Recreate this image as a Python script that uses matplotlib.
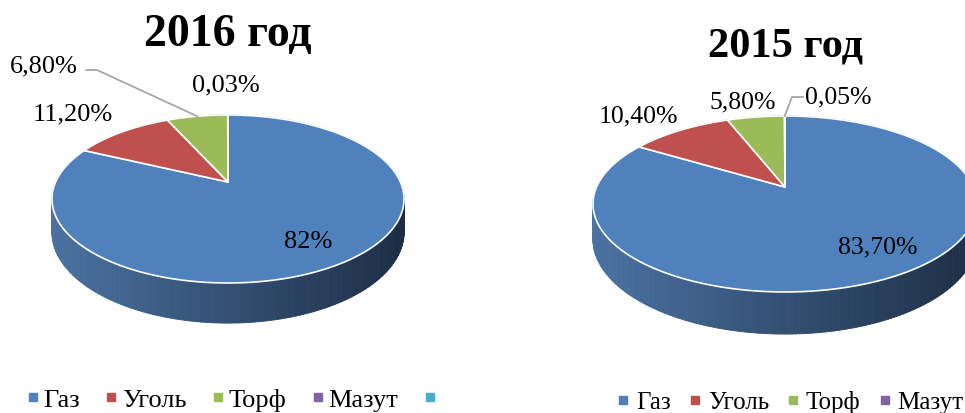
import matplotlib
matplotlib.use('Agg')
import matplotlib.pyplot as plt
from matplotlib.patches import Polygon
from matplotlib.collections import PolyCollection
from matplotlib.lines import Line2D
import numpy as np

plt.rcParams['font.family'] = 'Liberation Serif'

# data
categories = ['Газ', 'Уголь', 'Торф', 'Мазут', '']
colors = ['#4F81BD', '#C0504D', '#9BBB59', '#8064A2', '#4BACC6']

values_2016 = [82.0, 11.2, 6.8, 0.03]
labels_2016 = ['82%', '11,20%', '6,80%', '0,03%']
values_2015 = [83.7, 10.4, 5.8, 0.05]
labels_2015 = ['83,70%', '10,40%', '5,80%', '0,05%']

W, H = 965, 414
fig = plt.figure(figsize=(W / 100, H / 100), dpi=100)
ax = fig.add_axes([0, 0, 1, 1])
ax.set_xlim(0, W)
ax.set_ylim(H, 0)
ax.axis('off')

# pie geometry in pixels (centre, radius, tilt, perspective, thickness)
pie16 = dict(cx=228, cy=183, R=172.4, B=80.6, k=0.202, h=32)
pie15 = dict(cx=785, cy=188, R=188.4, B=84.7, k=0.193, h=34)


def project(pie, theta, drop=0.0):
    u, v = np.cos(theta), np.sin(theta)
    w = 1.0 / (1.0 + pie['k'] * v)
    return pie['cx'] + pie['R'] * u * w, pie['cy'] - pie['B'] * v * w + drop * w


def slice_angles(values):
    total = sum(values)
    cum = np.concatenate([[0], np.cumsum(values)])
    a = np.pi / 2 - 2 * np.pi * cum / total   # start at 12 o'clock, clockwise
    return a[:-1], a[1:]


def draw_pie(pie, values):
    # side wall with a light-to-dark gradient
    n = 400
    th = np.linspace(0, 2 * np.pi, n + 1)
    xt, yt = project(pie, th)
    xb, yb = project(pie, th, pie['h'])
    left, right = xt.min(), xt.max()
    light = np.array([74, 114, 162]) / 255
    dark = np.array([28, 45, 68]) / 255
    quads, cols = [], []
    order = np.argsort(-np.sin((th[:-1] + th[1:]) / 2))
    for i in order:
        quads.append([(xt[i], yt[i]), (xt[i + 1], yt[i + 1]),
                      (xb[i + 1], yb[i + 1]), (xb[i], yb[i])])
        t = ((xt[i] + xt[i + 1]) / 2 - left) / (right - left)
        cols.append(tuple(light * (1 - t) + dark * t))
    ax.add_collection(PolyCollection(quads, facecolors=cols, edgecolors=cols,
                                     linewidths=0.6))
    # top surface
    a0, a1 = slice_angles(values)
    for s, e, c in zip(a0, a1, colors):
        arc = np.linspace(s, e, max(3, int(abs(e - s) * 80)))
        x, y = project(pie, arc)
        pts = np.column_stack([np.r_[pie['cx'], x], np.r_[pie['cy'], y]])
        ax.add_patch(Polygon(pts, closed=True, facecolor=c,
                             edgecolor='white', linewidth=1.2, zorder=3))


draw_pie(pie16, values_2016)
draw_pie(pie15, values_2015)

# titles
ax.text(228, 35, '2016 год', fontsize=33, fontweight='bold',
        ha='center', va='center')
ax.text(785, 46, '2015 год', fontsize=30.5, fontweight='bold',
        ha='center', va='center')

# data labels
lab_kw = dict(ha='center', va='center', zorder=5)
pos16 = [(308, 242), (73, 114), (44, 66), (226, 85)]
for (x, y), s in zip(pos16, labels_2016):
    ax.text(x, y, s, fontsize=19, **lab_kw)
pos15 = [(878, 247), (638, 116), (743, 102), (838, 97)]
for (x, y), s in zip(pos15, labels_2015):
    ax.text(x, y, s, fontsize=18.5, **lab_kw)

# leader lines
a0, a1 = slice_angles(values_2016)
lx, ly = project(pie16, (a0[2] + a1[2]) / 2)
ax.plot([86, 97, lx], [71, 71, ly], color='#a6a6a6', lw=1.3, zorder=4)
a0, a1 = slice_angles(values_2015)
lx, ly = project(pie15, (a0[3] + a1[3]) / 2)
ax.plot([803, 792, lx], [98, 98, ly], color='#a6a6a6', lw=1.3, zorder=4)

# legends
handles = [Line2D([], [], marker='s', ls='none', markersize=6,
                  markerfacecolor=c, markeredgecolor=c) for c in colors]
leg_kw = dict(frameon=False, ncol=5, borderpad=0, borderaxespad=0,
              handlelength=0.5, loc='center left')
fig.legend(handles, categories, bbox_to_anchor=(26 / W, 1 - 400 / H),
           fontsize=19, handletextpad=0.15, columnspacing=0.95, **leg_kw)
fig.legend(handles, categories, bbox_to_anchor=(617 / W, 1 - 403 / H),
           fontsize=18, handletextpad=0.26, columnspacing=0.72, **leg_kw)

fig.savefig('out.png', dpi=100)
